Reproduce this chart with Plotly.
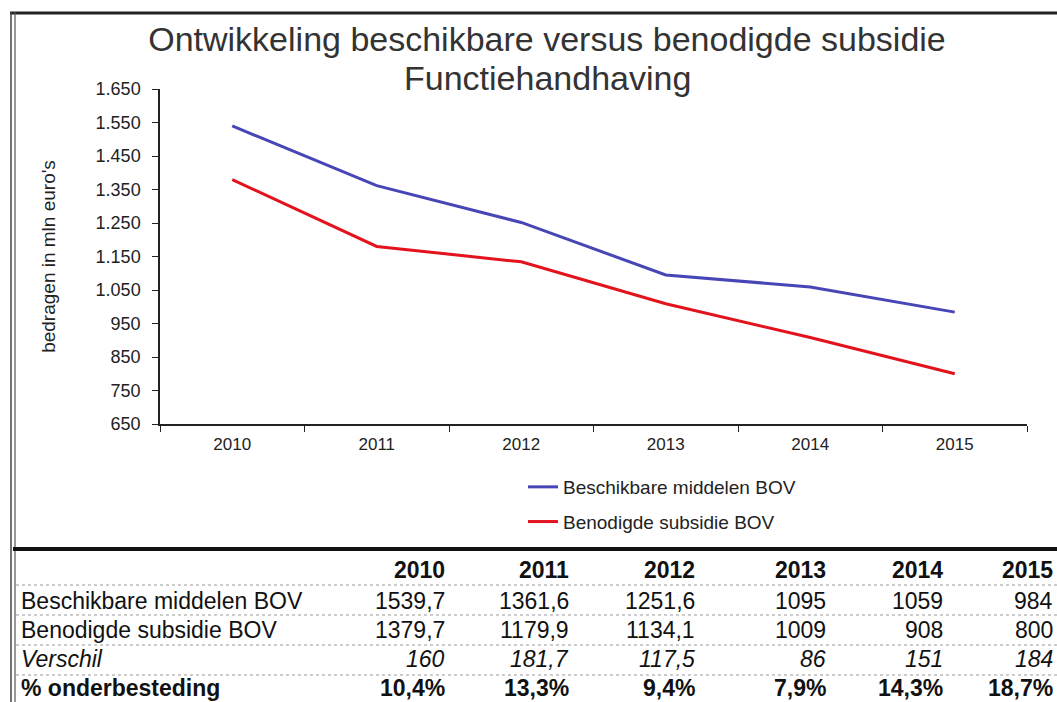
import plotly.graph_objects as go

years = ["2010", "2011", "2012", "2013", "2014", "2015"]
beschikbaar = [1539.7, 1361.6, 1251.6, 1095, 1059, 984]
benodigd = [1379.7, 1179.9, 1134.1, 1009, 908, 800]
verschil = [160, 181.7, 117.5, 86, 151, 184]
onderbesteding = [10.4, 13.3, 9.4, 7.9, 14.3, 18.7]
series_names = ["Beschikbare middelen BOV", "Benodigde subsidie BOV"]
title_lines = ["Ontwikkeling beschikbare versus benodigde subsidie", "Functiehandhaving"]
y_ticks = [650, 750, 850, 950, 1050, 1150, 1250, 1350, 1450, 1550, 1650]

W, H = 1057, 702
# plot area in page pixels (body margin removed via post_script)
PX0, PX1, PY0, PY1 = 160, 1027, 89, 424
L, R, T, B = PX0, W - PX1, PY0, H - PY1
PW, PH = PX1 - PX0, PY1 - PY0


def px(x):
    return (x - PX0) / PW


def py(y):
    return (PY1 - y) / PH


def fmt(v):
    if float(v).is_integer():
        return str(int(v))
    return ("%.1f" % v).replace(".", ",")


fig = go.Figure()
fig.add_trace(go.Scatter(x=years, y=beschikbaar, mode="lines", name=series_names[0],
                         line=dict(color="#4746b6", width=3), legendgroup="a"))
fig.add_trace(go.Scatter(x=years, y=benodigd, mode="lines", name=series_names[1],
                         line=dict(color="#e3131d", width=3), legendgroup="b"))

font_fam = "Liberation Sans, Arial, sans-serif"

fig.update_layout(
    width=W, height=H,
    margin=dict(l=L, r=R, t=T, b=B),
    paper_bgcolor="white", plot_bgcolor="white",
    separators=",.",
    font=dict(family=font_fam, color="#222"),
    title=dict(text=title_lines[0],
               x=px(547), xref="paper", xanchor="center", y=1 - 39 / H, yanchor="middle",
               font=dict(size=34, color="#333")),
    showlegend=True,
    legend=dict(x=px(523), y=py(468), xanchor="left", yanchor="top",
                font=dict(size=19, color="#222"), tracegroupgap=7,
                bgcolor="rgba(0,0,0,0)"),
    xaxis=dict(type="category", range=[-0.5, 5.5], showgrid=False, showline=True,
               linecolor="#222", linewidth=1.5, ticks="outside", tickson="boundaries",
               ticklen=6, tickcolor="#222", ticklabelstandoff=4,
               tickfont=dict(size=17, color="#222")),
    yaxis=dict(range=[650, 1650], tickvals=y_ticks, tickformat=",d", showgrid=False,
               showline=True, linecolor="#222", linewidth=1.5, ticks="outside", ticklen=6,
               tickcolor="#222", ticklabelstandoff=8, tickfont=dict(size=18, color="#222"),
               zeroline=False,
               title=dict(text="bedragen in mln euro's", font=dict(size=19, color="#222"),
                          standoff=35)),
)

# frame lines
shapes = [
    dict(type="line", xref="paper", yref="paper", x0=px(10), x1=px(1070), y0=py(13), y1=py(13),
         line=dict(color="#222", width=3)),
    dict(type="line", xref="paper", yref="paper", x0=px(11), x1=px(11), y0=py(12), y1=py(720),
         line=dict(color="#444", width=1.5)),
    dict(type="line", xref="paper", yref="paper", x0=px(15), x1=px(15), y0=py(12), y1=py(720),
         line=dict(color="#555", width=1.2)),
    dict(type="line", xref="paper", yref="paper", x0=px(13), x1=px(1070), y0=py(549), y1=py(549),
         line=dict(color="#111", width=4)),
]
for yy in [585, 615, 645, 675]:
    shapes.append(dict(type="line", xref="paper", yref="paper", x0=px(16), x1=px(1070),
                       y0=py(yy), y1=py(yy), line=dict(color="#999", width=1, dash="dot")))
fig.update_layout(shapes=shapes)

ann = [dict(x=px(547), y=py(78), xref="paper", yref="paper", text=title_lines[1],
            showarrow=False, xanchor="center", yanchor="middle",
            font=dict(size=34, color="#333", family=font_fam))]

col_right = [447, 571, 697, 828, 945, 1055]
row_y = [570, 601, 630, 659, 688]
row_labels = ["", series_names[0], series_names[1], "<i>Verschil</i>", "<b>% onderbesteding</b>"]
rows = [
    ["<b>%s</b>" % y for y in years],
    [fmt(v) for v in beschikbaar],
    [fmt(v) for v in benodigd],
    ["<i>%s</i>" % fmt(v) for v in verschil],
    ["<b>%s%%</b>" % fmt(v) for v in onderbesteding],
]
tfont = dict(size=23, color="#111", family=font_fam)
for r, yy in enumerate(row_y):
    if row_labels[r]:
        ann.append(dict(x=px(19), y=py(yy), xref="paper", yref="paper", text=row_labels[r],
                        showarrow=False, xanchor="left", yanchor="middle", font=tfont))
    for c, xx in enumerate(col_right):
        ann.append(dict(x=px(xx), y=py(yy), xref="paper", yref="paper", text=rows[r][c],
                        showarrow=False, xanchor="right", yanchor="middle", font=tfont))
fig.update_layout(annotations=ann)

fig.write_html("out.html", config={"displayModeBar": False},
               post_script="document.body.style.margin='0';document.body.style.overflow='hidden';")
